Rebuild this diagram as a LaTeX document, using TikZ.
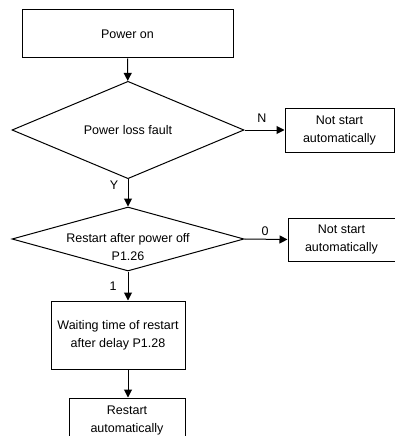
\documentclass[tikz,border=0pt]{standalone}
\usepackage{fontspec}
\setmainfont{Liberation Sans}
\usetikzlibrary{arrows.meta}
\usetikzlibrary{shapes.geometric}

\begin{document}
\begin{tikzpicture}[x=1pt,y=-1pt,
    every node/.style={font=\fontsize{12.5}{18}\selectfont},
    block/.style={draw,line width=1pt,align=center,inner sep=0pt},
    decision/.style={draw,line width=1pt,diamond,inner sep=0pt},
    arr/.style={line width=1pt,-{Triangle[length=8pt,width=8pt]}}]
  \useasboundingbox (0,0) rectangle (395,436);
  \clip (0,0) rectangle (395,436);
  % main column
  \node[block,minimum width=211,minimum height=48] (pon) at (127.5,34) {Power on};
  \node[decision,minimum width=232,minimum height=71] (loss) at (128,130) {Power loss fault};
  \node[decision,minimum width=232,minimum height=64] (rap) at (128,239) {};
  \node[align=center] (raptxt) at (128,247) {Restart after power off\\P1.26};
  \node[block,minimum width=134,minimum height=68] (wait) at (118,335)
    {Waiting time of restart\\after delay P1.28};
  \node[block,minimum width=116,minimum height=44] (rst) at (127,420)
    {Restart\\automatically};
  % side exits
  \node[block,minimum width=109,minimum height=44] (nsa) at (339.5,130)
    {Not start\\automatically};
  \node[block,minimum width=107,minimum height=43] (nsb) at (341.5,239.5)
    {Not start\\automatically};
  % branch labels
  \node (lblN) at (262,118) {N};
  \node (lblY) at (114,185) {Y};
  \node (lbl0) at (265,231) {0};
  \node (lbl1) at (113,286) {1};
  % connectors
  \draw[arr] (pon) -- (loss);
  \draw[arr] (loss) -- (rap);
  \draw[arr] (loss.east) -- (nsa.west);
  \draw[arr] (rap.east) -- (nsb.west);
  \draw[arr] (rap.south) -- (rap.south |- wait.north);
  \draw[arr] (rap.south |- wait.south) -- (rap.south |- rst.north);
\end{tikzpicture}
\end{document}
